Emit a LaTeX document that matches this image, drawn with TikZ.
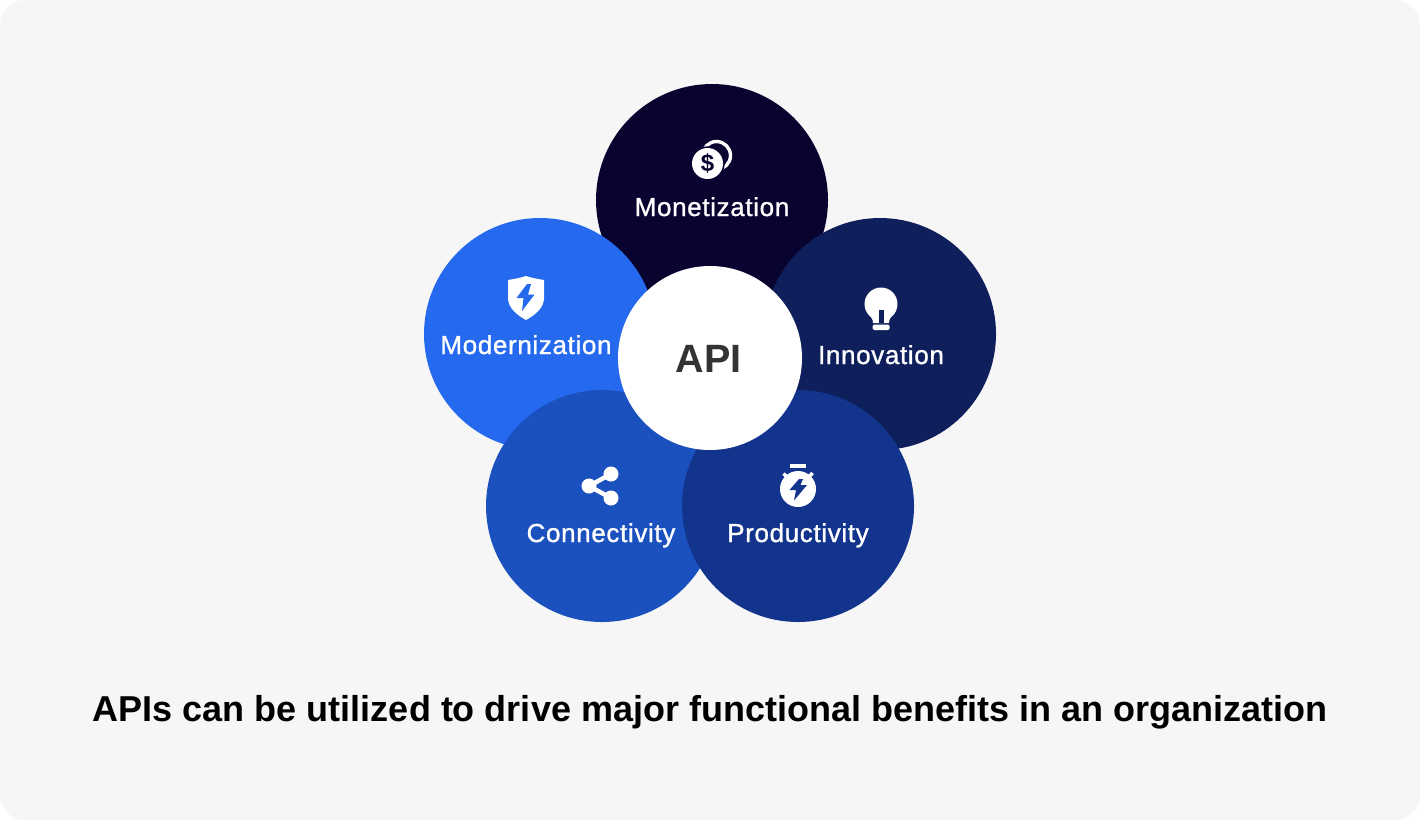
\documentclass[tikz,border=0pt]{standalone}
\usepackage{fontspec}
\setmainfont{Liberation Sans}
\newfontfamily\labelfont[FakeBold=1.1,LetterSpace=2.5]{Liberation Sans}
\definecolor{bgc}{HTML}{F6F6F6}
\definecolor{cTop}{HTML}{08042F}
\definecolor{cLeft}{HTML}{2469EE}
\definecolor{cRight}{HTML}{0E1F5C}
\definecolor{cConn}{HTML}{1B51BE}
\definecolor{cProd}{HTML}{13348C}
\definecolor{apit}{HTML}{333333}
\tikzset{
 petal/.style={circle,minimum size=232pt,inner sep=0pt,outer sep=0pt,fill=#1},
 lab/.style={anchor=base,text=white,inner sep=0pt,font=\labelfont\fontsize{26}{30}\selectfont},
}
\begin{document}
\begin{tikzpicture}[x=1pt,y=-1pt]
\useasboundingbox (0,0) rectangle (1420,820);
\fill[white] (0,0) rectangle (1420,820);
\fill[bgc,rounded corners=25pt] (0,0) rectangle (1420,820);
\node[petal=cTop] (top) at (712,200) {};
\node[petal=cLeft] (left) at (540,334) {};
\node[petal=cRight] (right) at (880,334) {};
\node[petal=cConn] (conn) at (602,506) {};
\node[petal=cProd] (prod) at (798,506) {};
\node[circle,minimum size=184pt,inner sep=0pt,fill=white] (core) at (710,358) {};
\node[anchor=base,inner sep=0pt,text=apit,font=\bfseries\fontsize{39.5}{48}\selectfont] (apilab) at (708.5,372) {API};
\node[lab] (l1) at (712,216) {Monetization};
\node[lab] (l2) at (526,354) {Modernization};
\node[lab] (l3) at (881,364) {Innovation};
\node[lab] (l4) at (601,542) {Connectivity};
\node[lab] (l5) at (798,542) {Productivity};
\node[anchor=base,inner sep=0pt,text=black,font=\bfseries\fontsize{36}{44}\selectfont] (cap) at (710,721) {APIs can be utilized to drive major functional benefits in an organization};
% coins
\draw[white,line width=3.4pt] (716.5,155.5) circle (14pt);
\fill[cTop] (707.5,163.5) circle (17.2pt);
\fill[white] (707.5,163.5) circle (15.5pt);
\node[inner sep=0pt,text=cTop,font=\bfseries\fontsize{24}{24}\selectfont] (dollar) at (707.5,163.5) {\$};
% shield
\fill[white] (526,276) .. controls (532,278) and (538,279) .. (544,280) -- (544,298) .. controls (544,308) and (535,315) .. (526,320) .. controls (517,315) and (508,308) .. (508,298) -- (508,280) .. controls (514,279) and (520,278) .. (526,276) -- cycle;
\fill[cLeft] (527,284) -- (516.5,298) -- (523.5,298) -- (522,311) -- (534.5,294.5) -- (528,294.5) -- (531,284) -- cycle;
% bulb
\fill[white] (881,304) circle (16.5pt);
\fill[white] (867,312) .. controls (870,316) and (873,318) .. (873,323) -- (889,323) .. controls (889,318) and (892,316) .. (895,312) -- cycle;
\fill[white,rounded corners=1.5pt] (872.5,324.5) rectangle (889.5,330);
\fill[cRight] (879,310) rectangle (883.5,323);
% share
\draw[white,line width=4.5pt] (611,474) -- (589,486) -- (611,498);
\fill[white] (611,474) circle (7.5pt) (589,486) circle (7.5pt) (611,498) circle (7.5pt);
% stopwatch
\fill[white] (790,464) rectangle (806,468);
\draw[white,line width=3.5pt] (783.5,473.5) -- (788,478) (812.5,473) -- (808,478);
\fill[white] (798,489) circle (18pt);
\fill[cProd] (799,479) -- (789.5,490) -- (796,490) -- (794,500.5) -- (807,485) -- (800.5,485) -- (803,479) -- cycle;
\end{tikzpicture}
\end{document}
